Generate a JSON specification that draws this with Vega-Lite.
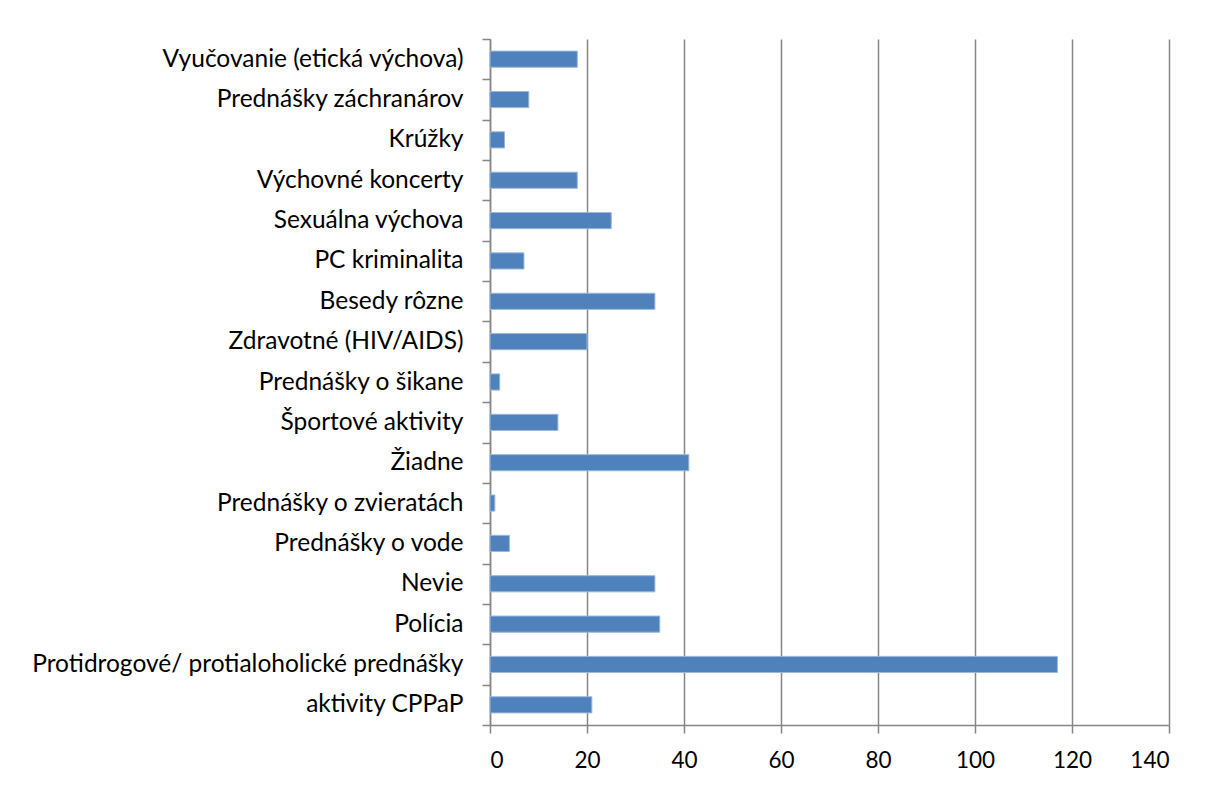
{
  "$schema": "https://vega.github.io/schema/vega-lite/v6.json",
  "autosize": {"type": "none"},
  "padding": {"left": 490, "top": 39, "right": 58, "bottom": 60},
  "width": 679,
  "height": 686,
  "background": "white",
  "data": {
    "values": [
      {"aktivita": "Vyučovanie (etická výchova)", "pocet": 18},
      {"aktivita": "Prednášky záchranárov", "pocet": 8},
      {"aktivita": "Krúžky", "pocet": 3},
      {"aktivita": "Výchovné koncerty", "pocet": 18},
      {"aktivita": "Sexuálna výchova", "pocet": 25},
      {"aktivita": "PC kriminalita", "pocet": 7},
      {"aktivita": "Besedy rôzne", "pocet": 34},
      {"aktivita": "Zdravotné (HIV/AIDS)", "pocet": 20},
      {"aktivita": "Prednášky o šikane", "pocet": 2},
      {"aktivita": "Športové aktivity", "pocet": 14},
      {"aktivita": "Žiadne", "pocet": 41},
      {"aktivita": "Prednášky o zvieratách", "pocet": 1},
      {"aktivita": "Prednášky o vode", "pocet": 4},
      {"aktivita": "Nevie", "pocet": 34},
      {"aktivita": "Polícia", "pocet": 35},
      {"aktivita": "Protidrogové/ protialoholické prednášky", "pocet": 117},
      {"aktivita": "aktivity CPPaP", "pocet": 21}
    ]
  },
  "mark": {"type": "bar", "color": "#4F81BD", "stroke": "#9bb7da", "strokeWidth": 1, "height": {"band": 0.4}},
  "encoding": {
    "y": {
      "field": "aktivita",
      "type": "nominal",
      "sort": null,
      "scale": {"paddingInner": 0, "paddingOuter": 0},
      "axis": {
        "title": null,
        "tickBand": "extent",
        "tickSize": 8,
        "tickColor": "#868686",
        "tickWidth": 1.5,
        "domainColor": "#868686",
        "domainWidth": 1.5,
        "labelFont": "Lato",
        "labelFontSize": 24.5,
        "labelColor": "#000000",
        "labelPadding": 19,
        "labelLimit": 600,
        "grid": false
      }
    },
    "x": {
      "field": "pocet",
      "type": "quantitative",
      "scale": {"domain": [0, 140], "nice": false},
      "axis": {
        "title": null,
        "values": [0, 20, 40, 60, 80, 100, 120, 140],
        "tickSize": 8,
        "tickColor": "#868686",
        "tickWidth": 1.5,
        "domainColor": "#868686",
        "domainWidth": 1.5,
        "grid": true,
        "gridColor": "#868686",
        "gridWidth": 1.5,
        "gridOpacity": 1,
        "labelFont": "Lato",
        "labelFontSize": 22.5,
        "labelColor": "#000000",
        "labelPadding": 16
      }
    }
  },
  "config": {"view": {"stroke": null}}
}
